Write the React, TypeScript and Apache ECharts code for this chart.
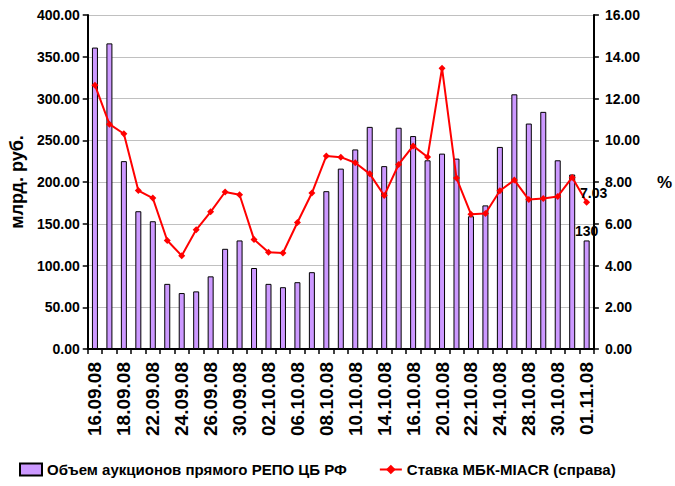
import React, { useEffect, useRef } from "react";
import * as echarts from "echarts";

const categories = [
  "16.09.08", "17.09.08", "18.09.08", "19.09.08", "22.09.08", "23.09.08", "24.09.08",
  "25.09.08", "26.09.08", "29.09.08", "30.09.08", "01.10.08", "02.10.08", "03.10.08",
  "06.10.08", "07.10.08", "08.10.08", "09.10.08", "10.10.08", "13.10.08", "14.10.08",
  "15.10.08", "16.10.08", "17.10.08", "20.10.08", "21.10.08", "22.10.08", "23.10.08",
  "24.10.08", "27.10.08", "28.10.08", "29.10.08", "30.10.08", "31.10.08", "01.11.08",
];

const repoVolume = [
  361, 366, 225, 165, 153, 78, 67, 69, 87, 120, 130, 97, 78, 74, 80, 92, 189, 216,
  239, 266, 219, 265, 255, 226, 234, 228, 159, 172, 242, 305, 270, 284, 226, 209, 130,
];

const miacrRate = [
  12.64, 10.77, 10.31, 7.59, 7.23, 5.2, 4.47, 5.71, 6.57, 7.52, 7.39, 5.25, 4.63, 4.6,
  6.06, 7.47, 9.25, 9.19, 8.92, 8.39, 7.35, 8.84, 9.73, 9.2, 13.45, 8.19, 6.46, 6.49,
  7.58, 8.09, 7.16, 7.21, 7.31, 8.22, 7.03,
];

const seriesNames = ["Объем аукционов прямого РЕПО ЦБ РФ", "Ставка МБК-MIACR (справа)"];
const leftAxisName = "млрд. руб.";
const rightAxisName = "%";

const FONT = '"Liberation Sans", Arial, sans-serif';

export default function App() {
  const ref = useRef<HTMLDivElement>(null);

  useEffect(() => {
    if (!ref.current) return;
    const chart = echarts.init(ref.current, undefined, { renderer: "svg" });
    const last = categories.length - 1;

    chart.setOption({
      animation: false,
      backgroundColor: "#ffffff",
      textStyle: { fontFamily: FONT },
      grid: { left: 83, right: 78, top: 15, bottom: 137, containLabel: false },
      legend: {
        left: 14,
        top: 457,
        itemWidth: 22,
        itemHeight: 12,
        itemGap: 32,
        textStyle: { fontFamily: FONT, fontWeight: "bold", fontSize: 15, color: "#000" },
        data: [
          { name: seriesNames[0], icon: "rect" },
          { name: seriesNames[1] },
        ],
      },
      xAxis: {
        type: "category",
        data: categories,
        boundaryGap: true,
        axisLine: { lineStyle: { color: "#000", width: 2 } },
        axisTick: { show: true, interval: 0, length: 5, lineStyle: { color: "#000", width: 1.5 } },
        axisLabel: {
          interval: 1,
          rotate: 90,
          margin: 13,
          fontFamily: FONT,
          fontWeight: "bold",
          fontSize: 19,
          color: "#000",
        },
      },
      yAxis: [
        {
          type: "value",
          min: 0,
          max: 400,
          interval: 50,
          name: leftAxisName,
          nameLocation: "middle",
          nameRotate: 90,
          nameGap: 60,
          nameTextStyle: { fontFamily: FONT, fontWeight: "bold", fontSize: 18, color: "#000" },
          axisLine: { show: true, lineStyle: { color: "#000", width: 2 } },
          axisTick: { show: true, length: 5, lineStyle: { color: "#000", width: 1.5 } },
          axisLabel: {
            formatter: (v: number) => v.toFixed(2),
            margin: 8,
            fontFamily: FONT,
            fontWeight: "bold",
            fontSize: 14,
            color: "#000",
          },
          splitLine: { show: true, lineStyle: { color: "#c0c0c0", width: 1 } },
        },
        {
          type: "value",
          min: 0,
          max: 16,
          interval: 2,
          position: "right",
          name: rightAxisName,
          nameLocation: "middle",
          nameRotate: 0,
          nameGap: 63,
          nameTextStyle: { fontFamily: FONT, fontWeight: "bold", fontSize: 17, color: "#000" },
          axisLine: { show: true, lineStyle: { color: "#000", width: 2 } },
          axisTick: { show: true, length: 5, lineStyle: { color: "#000", width: 1.5 } },
          axisLabel: {
            formatter: (v: number) => v.toFixed(2),
            margin: 11,
            fontFamily: FONT,
            fontWeight: "bold",
            fontSize: 14,
            color: "#000",
          },
          splitLine: { show: false },
        },
      ],
      series: [
        {
          name: seriesNames[0],
          type: "bar",
          yAxisIndex: 0,
          barWidth: 6,
          itemStyle: { color: "#cc99ff", borderColor: "#000", borderWidth: 1 },
          data: repoVolume.map((v, i) =>
            i === last
              ? {
                  value: v,
                  label: {
                    show: true,
                    position: "top",
                    offset: [0, 3],
                    fontFamily: FONT,
                    fontWeight: "bold",
                    fontSize: 14,
                    color: "#000",
                  },
                }
              : v
          ),
          z: 2,
        },
        {
          name: seriesNames[1],
          type: "line",
          yAxisIndex: 1,
          symbol: "diamond",
          symbolSize: 7,
          lineStyle: { color: "#ff0000", width: 2 },
          itemStyle: { color: "#ff0000" },
          data: miacrRate.map((v, i) =>
            i === last
              ? {
                  value: v,
                  label: {
                    show: true,
                    position: "top",
                    offset: [7, 6],
                    formatter: (p: any) => Number(p.value).toFixed(2),
                    fontFamily: FONT,
                    fontWeight: "bold",
                    fontSize: 14,
                    color: "#000",
                  },
                }
              : v
          ),
          z: 3,
        },
      ],
    });

    return () => chart.dispose();
  }, []);

  return (
    <div
      ref={ref}
      style={{ position: "fixed", left: 0, top: 0, width: 675, height: 486 }}
    />
  );
}
